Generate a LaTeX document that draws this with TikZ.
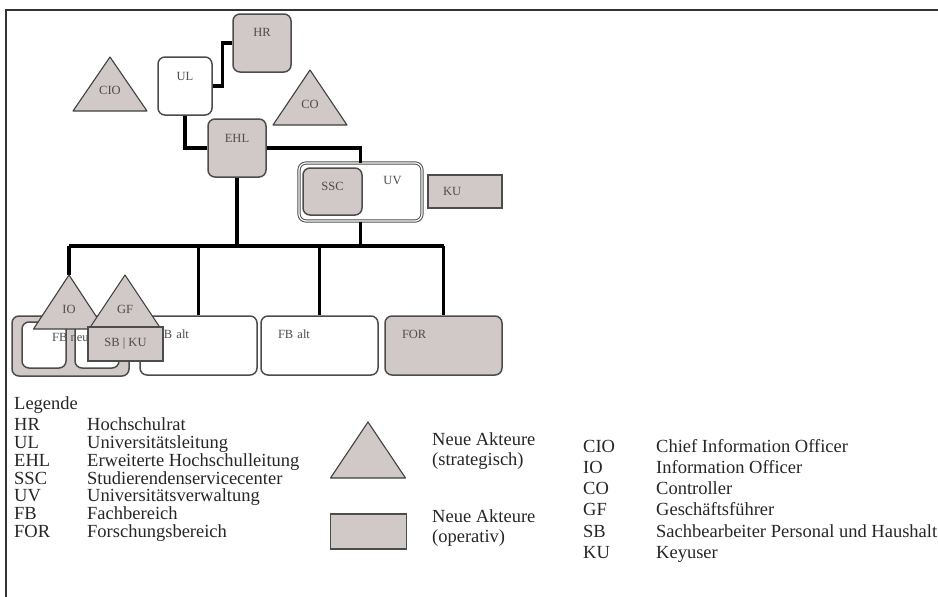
\documentclass[tikz,border=0pt]{standalone}
\usepackage{fontspec}
\setmainfont{Liberation Serif}
\usetikzlibrary{positioning}

\definecolor{actorgray}{RGB}{208,201,199}

\tikzset{
  orgbox/.style={draw=black!70, line width=1.5pt, fill=white, rounded corners=7pt, inner sep=0pt,
                 font=\fontsize{12.5}{14}\selectfont, text=black!70},
  newbox/.style={orgbox, fill=actorgray},
  opbox/.style={newbox, rounded corners=0pt},
  textup/.style={text depth=#1},
  lefttext/.style={text width=#1, inner xsep=17pt, align=left},
  tri/.style={draw=black!75, line width=1.1pt, fill=actorgray, line join=round},
  lbl/.style={font=\fontsize{12.5}{14}\selectfont, text=black!70, inner sep=0pt},
  conn/.style={line width=3.1pt, black},
  legtext/.style={font=\fontsize{18.5}{18}\selectfont, text=black!85, anchor=base west, inner sep=0pt},
  frame/.style={line width=1.2pt, black!80}
}

\begin{document}
\begin{tikzpicture}[x=1pt, y=-1pt]
  \useasboundingbox (0,0) rectangle (938,597);
  \draw[frame] (938,10) -- (6,10) -- (6,597);

  % Leitung
  \node[newbox, minimum width=58pt, minimum height=58pt, textup=22pt] (hr) at (262,43) {HR};
  \node[orgbox, minimum width=54pt, minimum height=58pt, textup=20pt] (ul) at (185,86) {UL};
  \node[newbox, minimum width=58pt, minimum height=58pt, textup=20pt] (ehl) at (237,148) {EHL};

  % Verwaltung
  \node[orgbox, double=white, double distance=1.2pt, line width=1pt, minimum width=123pt, minimum height=58pt,
        label={[lbl, xshift=32pt, yshift=11pt]center:UV}] (uv) at (360.5,192) {};
  \node[newbox, minimum width=59pt, minimum height=47pt, textup=11pt] (ssc) at (332.5,191.5) {SSC};
  \node[opbox, minimum width=74pt, minimum height=33pt, text width=44pt, inner xsep=15pt, align=left] (ku) at (465,191.5) {KU};

  \draw[conn] (ul.east) -- ++(10,0) |- (hr.west);
  \draw[conn] (ul.south) |- (ehl.west);
  \draw[conn] (ehl.east) -| (uv.north);

  % Bereiche
  \coordinate (bus west) at (69,246);
  \coordinate (bus east) at (443.5,246);
  \coordinate (io top) at (69,275);
  \coordinate (gf top) at (125,275);

  \node[newbox, minimum width=117pt, minimum height=60pt] (fbneu) at (70.5,346) {};
  \node[orgbox, minimum width=44pt, minimum height=46pt] (fbneu left) at (44,345) {};
  \node[orgbox, minimum width=44pt, minimum height=46pt] (fbneu right) at (97,345) {};
  \node[lbl, anchor=base west] (fbneu text) at (52,341) {FB neu};
  \node[orgbox, minimum width=117pt, minimum height=59pt, lefttext=83pt, textup=22pt] (fbalt1) at (198.5,345.5) {FB alt};
  \node[orgbox, minimum width=117pt, minimum height=59pt, lefttext=83pt, textup=22pt] (fbalt2) at (319.5,345.5) {FB alt};
  \node[newbox, minimum width=117pt, minimum height=59pt, lefttext=83pt, textup=22pt] (forb) at (443.5,345.5) {FOR};

  \draw[conn] (bus west) -- (bus east);
  \draw[conn] (ehl.south) -- (ehl.south |- bus west);
  \draw[conn] (uv.south) -- (uv.south |- bus west);
  \draw[conn] (bus west) -- (io top);
  \draw[conn] (fbalt1.north |- bus west) -- (fbalt1.north);
  \draw[conn] (fbalt2.north |- bus west) -- (fbalt2.north);
  \draw[conn] (forb.north |- bus west) -- (forb.north);

  % neue Akteure
  \filldraw[tri] (110,57) coordinate (cio top) -- ++(37,54) -- ++(-74,0) -- cycle;
  \node[lbl] (cio) at ([yshift=-33pt]cio top) {CIO};
  \filldraw[tri] (310,70) coordinate (co top) -- ++(37,55) -- ++(-74,0) -- cycle;
  \node[lbl] (co) at ([yshift=-34pt]co top) {CO};
  \filldraw[tri] (io top) -- ++(35.5,54) -- ++(-71,0) -- cycle;
  \node[lbl] (io) at ([yshift=-34pt]io top) {IO};
  \filldraw[tri] (gf top) -- ++(36,54) -- ++(-72,0) -- cycle;
  \node[lbl] (gf) at ([yshift=-34pt]gf top) {GF};
  \node[opbox, minimum width=75pt, minimum height=34pt] (sbku) at (125.5,344) {SB | KU};

  % Legende
  \node[legtext] (legende) at (14,409) {Legende};
  \node[legtext] (hr key) at (14,430) {HR};
  \node[legtext] (hr name) at (87,430) {Hochschulrat};
  \node[legtext] (ul key) at (14,448) {UL};
  \node[legtext] (ul name) at (87,448) {Universitätsleitung};
  \node[legtext] (ehl key) at (14,466) {EHL};
  \node[legtext] (ehl name) at (87,466) {Erweiterte Hochschulleitung};
  \node[legtext] (ssc key) at (14,484) {SSC};
  \node[legtext] (ssc name) at (87,484) {Studierendenservicecenter};
  \node[legtext] (uv key) at (14,501.5) {UV};
  \node[legtext] (uv name) at (87,501.5) {Universitätsverwaltung};
  \node[legtext] (fb key) at (14,519.5) {FB};
  \node[legtext] (fb name) at (87,519.5) {Fachbereich};
  \node[legtext] (for key) at (14,537) {FOR};
  \node[legtext] (for name) at (87,537) {Forschungsbereich};

  \filldraw[tri] (368,422) coordinate (key tri top) -- ++(37.5,56) -- ++(-75,0) -- cycle;
  \node[legtext] (strat1) at (432,445) {Neue Akteure};
  \node[legtext] (strat2) at (432,465) {(strategisch)};
  \node[opbox, minimum width=76pt, minimum height=35pt] (key box) at (368.5,531.5) {};
  \node[legtext] (oper1) at (432,522) {Neue Akteure};
  \node[legtext] (oper2) at (432,542) {(operativ)};

  \node[legtext] (cio key) at (583,452) {CIO};
  \node[legtext] (cio name) at (656,452) {Chief Information Officer};
  \node[legtext] (io key) at (583,473) {IO};
  \node[legtext] (io name) at (656,473) {Information Officer};
  \node[legtext] (co key) at (583,494.5) {CO};
  \node[legtext] (co name) at (656,494.5) {Controller};
  \node[legtext] (gf key) at (583,515.5) {GF};
  \node[legtext] (gf name) at (656,515.5) {Geschäftsführer};
  \node[legtext] (sb key) at (583,537) {SB};
  \node[legtext] (sb name) at (656,537) {Sachbearbeiter Personal und Haushalt};
  \node[legtext] (ku key) at (583,558) {KU};
  \node[legtext] (ku name) at (656,558) {Keyuser};
\end{tikzpicture}
\end{document}
